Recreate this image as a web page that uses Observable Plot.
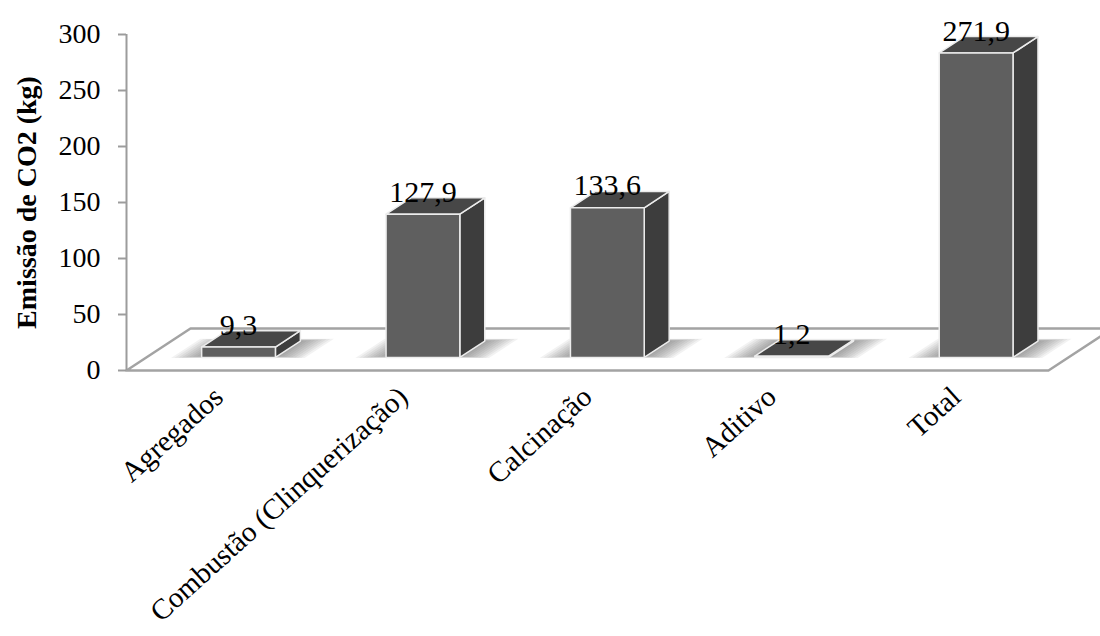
<!DOCTYPE html>
<html>
<head>
<meta charset="utf-8">
<script src="https://cdn.jsdelivr.net/npm/d3@7"></script>
<script src="https://cdn.jsdelivr.net/npm/@observablehq/plot@0.6"></script>
<style>
  html, body { margin: 0; padding: 0; background: #fff; }
  #chart { width: 1100px; height: 636px; }
</style>
</head>
<body>
<div id="chart"></div>
<script>
// ---- data ----
const categories = ["Agregados", "Combustão (Clinquerização)", "Calcinação", "Aditivo", "Total"];
const values = [9.3, 127.9, 133.6, 1.2, 271.9];
const yTicks = [0, 50, 100, 150, 200, 250, 300];
const yLabel = "Emissão de CO2 (kg)";

// ---- pseudo-3D geometry (in data units of the linear scales) ----
const xDomain = [-0.5, categories.length - 0.5];
const yDomain = [0, 300];
const DX = 0.347;   // floor depth along x (category units)
const DY = 37.5;    // floor depth along y (value units)
const Z0 = 0.31, Z1 = 0.70; // bar front / back depth
const HW = 0.2;     // bar half width

const P = (id, x, v, z) => ({id, x: x + z * DX, y: v + z * DY});

const floorPoly = [
  P("floor", xDomain[0], 0, 0), P("floor", xDomain[1], 0, 0),
  P("floor", xDomain[1], 0, 1), P("floor", xDomain[0], 0, 1)
];

const frontFaces = [], sideFaces = [], topFaces = [], shadowPolys = [];
values.forEach((v, i) => {
  frontFaces.push(P("f" + i, i - HW, 0, Z0), P("f" + i, i + HW, 0, Z0), P("f" + i, i + HW, v, Z0), P("f" + i, i - HW, v, Z0));
  sideFaces.push(P("s" + i, i + HW, 0, Z0), P("s" + i, i + HW, 0, Z1), P("s" + i, i + HW, v, Z1), P("s" + i, i + HW, v, Z0));
  topFaces.push(P("t" + i, i - HW, v, Z0), P("t" + i, i + HW, v, Z0), P("t" + i, i + HW, v, Z1), P("t" + i, i - HW, v, Z1));
  // soft floor shadow: stacked translucent layers
  for (let k = 1; k <= 9; k++) {
    const id = "h" + i + "_" + k, ex = 0.018 * k, ez = 0.016 * k;
    shadowPolys.push(P(id, i - HW - ex, 0, Z0 + 0.03 - ez * 0.3), P(id, i + HW + ex, 0, Z0 + 0.03 - ez * 0.3),
                     P(id, i + HW + ex, 0, Z1 + ez * 0.4), P(id, i - HW - ex, 0, Z1 + ez * 0.4));
  }
});

const barLabels = values.map((v, i) => ({x: i + Z0 * DX, y: v + Z1 * DY, text: v.toFixed(1).replace(".", ",")}));

const font = "'Liberation Serif', 'Times New Roman', serif";
const edge = "#ececec";

const plot = Plot.plot({
  width: 1100,
  height: 636,
  marginLeft: 126,
  marginRight: 52,
  marginTop: 34,
  marginBottom: 266,
  style: {fontFamily: font, background: "#fff", color: "#000"},
  x: {type: "linear", domain: xDomain, axis: null},
  y: {domain: yDomain, axis: null},
  marks: [
    Plot.line(floorPoly, {x: "x", y: "y", z: "id", curve: "linear-closed", fill: "#fff", stroke: "#a3a3a3", strokeWidth: 2.5}),
    Plot.line(shadowPolys, {x: "x", y: "y", z: "id", curve: "linear-closed", fill: "#4a4a4a", fillOpacity: 0.075, stroke: "none"}),
    Plot.line(sideFaces, {x: "x", y: "y", z: "id", curve: "linear-closed", fill: "#3d3d3d", stroke: edge, strokeWidth: 1.5}),
    Plot.line(topFaces, {x: "x", y: "y", z: "id", curve: "linear-closed", fill: "#474747", stroke: edge, strokeWidth: 1.5}),
    Plot.line(frontFaces, {x: "x", y: "y", z: "id", curve: "linear-closed", fill: "#5f5f5f", stroke: edge, strokeWidth: 1.5}),
    Plot.ruleX([xDomain[0]], {y1: yDomain[0], y2: yDomain[1], stroke: "#9c9c9c", strokeWidth: 2}),
    Plot.axisY({ticks: yTicks, tickSize: 8, stroke: "#9c9c9c", strokeWidth: 2, tickFormat: () => "", label: null}),
    Plot.axisY({ticks: yTicks, tickSize: 0, tickPadding: 26, fontSize: 28, fill: "#000", tickFormat: d => String(d), label: null}),
    Plot.axisX({ticks: d3.range(categories.length), tickFormat: i => categories[i], tickRotate: -42, tickSize: 0, tickPadding: 22, fontSize: 29, fill: "#000", label: null}),
    Plot.text(barLabels, {x: "x", y: "y", text: "text", fontSize: 30, lineAnchor: "bottom", dy: 4, fill: "#000"}),
    Plot.text([yLabel], {frameAnchor: "left", textAnchor: "middle", rotate: -90, dx: -99, fontSize: 28, fontWeight: "bold", fill: "#000"})
  ]
});

document.getElementById("chart").appendChild(plot);
</script>
</body>
</html>
